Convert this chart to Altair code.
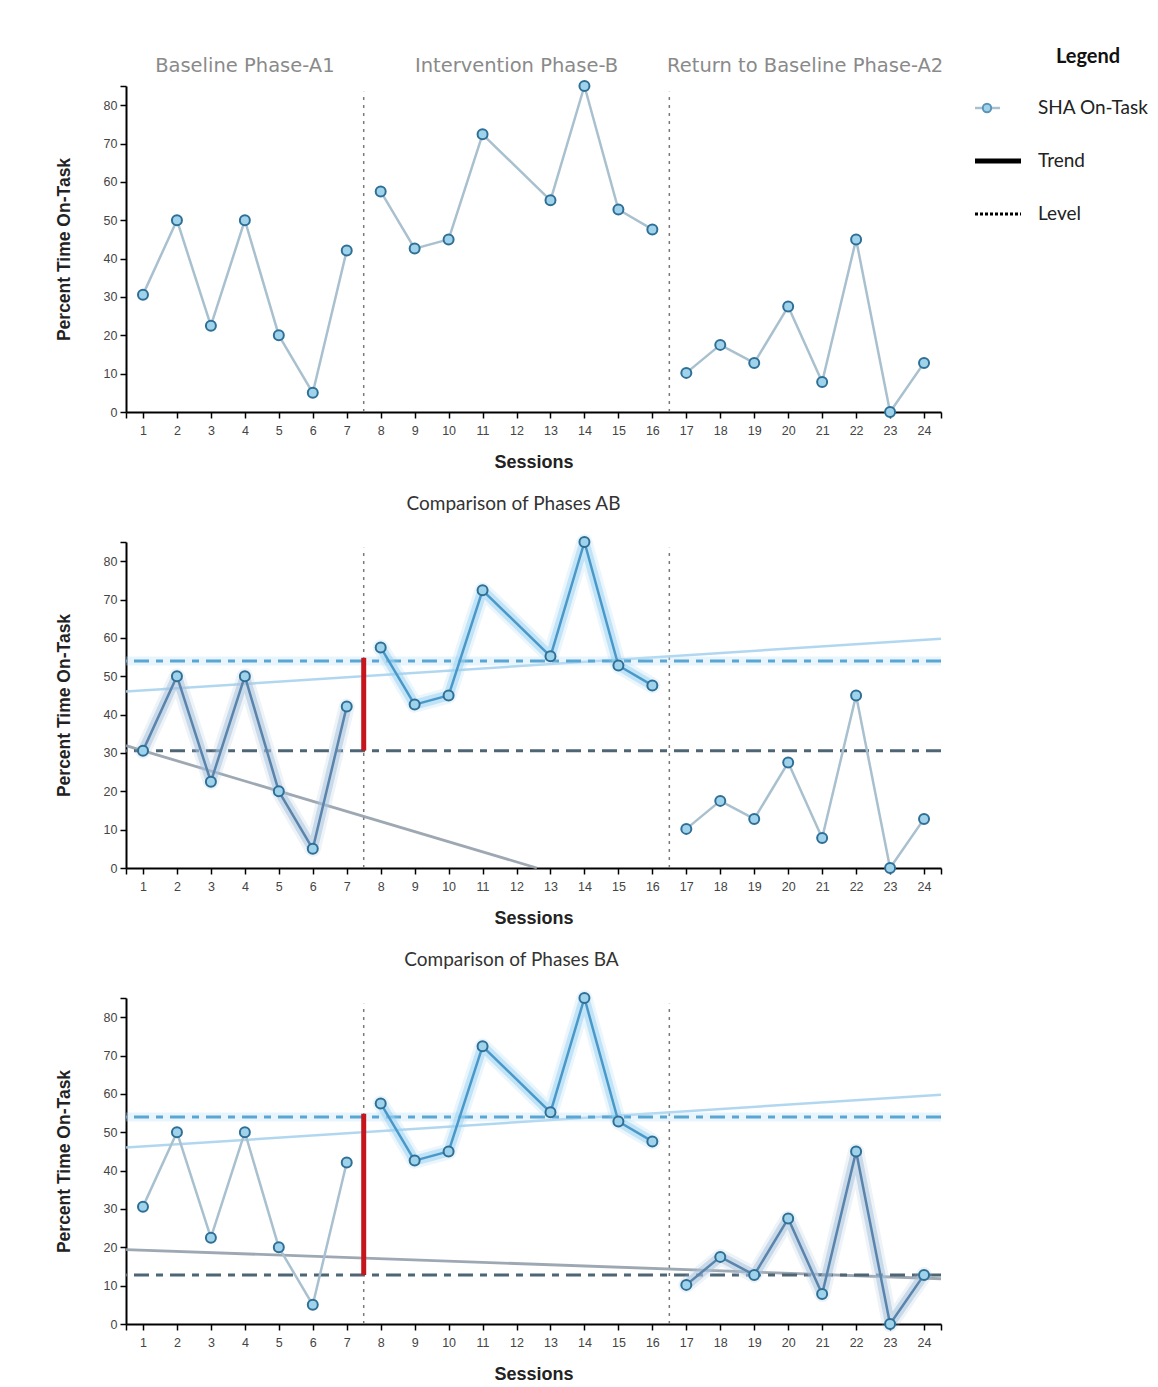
import altair as alt
import pandas as pd

# ---------------- data ----------------
sessions = [1, 2, 3, 4, 5, 6, 7, 8, 9, 10, 11, 13, 14, 15, 16, 17, 18, 19, 20, 21, 22, 23, 24]
on_task = [30.6, 50.0, 22.5, 50.0, 20.0, 5.0, 42.1,
           57.5, 42.6, 45.0, 72.4, 55.2, 85.0, 52.8, 47.6,
           10.2, 17.5, 12.8, 27.5, 7.8, 45.0, 0.0, 12.8]
phase = ["A1"] * 7 + ["B"] * 8 + ["A2"] * 8

phase_names = ["Baseline Phase-A1", "Intervention Phase-B", "Return to Baseline Phase-A2"]
phase_name_x = [4, 12, 20.5]
phase_change = [7.5, 16.5]

level_a1 = 30.6
level_b = 54.0
level_a2 = 12.8
red_bar_top = 54.8

# trend lines (start / end points)
trend_ab_a1_x = [0.5, 12.6]
trend_ab_a1_y = [31.9, 0.0]
trend_b_x = [0.5, 24.5]
trend_b_y = [46.0, 59.8]
trend_ba_a2_x = [0.5, 24.5]
trend_ba_a2_y = [19.4, 11.8]

legend_title = "Legend"
legend_items = ["SHA On-Task", "Trend", "Level"]

x_ticks = [0.5] + list(range(1, 25)) + [24.5]
y_ticks = list(range(0, 81, 10)) + [85]

# ---------------- helpers ----------------
XS = alt.Scale(domain=[0.5, 24.5], nice=False, zero=False)
YS = alt.Scale(domain=[0, 85], nice=False, zero=True)
X_AXIS = alt.Axis(values=x_ticks,
                  labelExpr="datum.value == floor(datum.value) ? datum.label : ''",
                  labelOverlap=False, titleFontSize=18, titlePadding=17, labelPadding=6)
Y_AXIS = alt.Axis(values=y_ticks,
                  labelExpr="datum.value <= 80 ? datum.label : ''",
                  labelOverlap=False, titleFontSize=17.5, titlePadding=30, labelPadding=3)
X_TITLE = "Sessions"
Y_TITLE = "Percent Time On-Task"


def X(field="session"):
    return alt.X(f"{field}:Q", scale=XS, axis=X_AXIS, title=X_TITLE)


def Y(field="pct"):
    return alt.Y(f"{field}:Q", scale=YS, axis=Y_AXIS, title=Y_TITLE)


df = pd.DataFrame({"session": sessions, "pct": on_task, "phase": phase})

LINE_GRAY = "#a9c0cf"
POINT_FILL = "#9fd3ec"
POINT_STROKE = "#2f6f96"


def data_line(sub=None, color=LINE_GRAY, width=2.5, opacity=1.0):
    d = df if sub is None else df[df.phase == sub]
    return alt.Chart(d).mark_line(color=color, strokeWidth=width, opacity=opacity,
                                  strokeJoin="round", strokeCap="round").encode(
        x=X(), y=Y(), detail="phase:N")


def points():
    return alt.Chart(df).mark_point(shape="circle", filled=True, fill=POINT_FILL,
                                    stroke=POINT_STROKE, strokeWidth=2, size=100,
                                    opacity=1).encode(x=X(), y=Y())


def phase_rules():
    return alt.Chart(pd.DataFrame({"session": phase_change})).mark_rule(
        color="#7a7a7a", strokeWidth=1.5, strokeDash=[3, 5]).encode(
        x=X(),
        y=alt.Y(datum=0, scale=YS, axis=Y_AXIS, title=Y_TITLE),
        y2=alt.Y2(datum=83.5))


def level_rule(value, color, glow=None):
    d = pd.DataFrame({"pct": [value]})
    layers = []
    if glow:
        layers.append(alt.Chart(d).mark_rule(color=glow, strokeWidth=9, opacity=0.35).encode(y=Y()))
    layers.append(alt.Chart(d).mark_rule(color=color, strokeWidth=3,
                                         strokeDash=[15, 7, 7, 7]).encode(y=Y()))
    return layers


def trend(xs, ys, color, width=2.5, opacity=0.9):
    d = pd.DataFrame({"session": xs, "pct": ys})
    return alt.Chart(d).mark_line(color=color, strokeWidth=width, opacity=opacity).encode(x=X(), y=Y())


def red_bar(low, high):
    d = pd.DataFrame({"session": [7.5], "pct": [low], "pct2": [high]})
    return alt.Chart(d).mark_rule(color="#c4161c", strokeWidth=5).encode(
        x=X(), y=Y(), y2=alt.Y2("pct2:Q"))


def band(sub, band_color, line_color):
    return [data_line(sub, band_color, 16, 0.2),
            data_line(sub, band_color, 10, 0.55),
            data_line(sub, line_color, 2.5, 1.0)]


W, H = 815, 326

# ---------------- top panel ----------------
phase_text = alt.Chart(pd.DataFrame({"session": phase_name_x, "name": phase_names})).mark_text(
    font="DejaVu Sans", fontSize=19.5, color="#8a8a8a", baseline="middle").encode(
    x=X(), y=alt.value(-20), text="name:N")

top_data = alt.layer(phase_rules(), data_line(), points(), phase_text)

# legend drawn at the right of the top panel with its own point scale
LX = W + 34  # left edge of legend symbols
leg_df = pd.DataFrame({"item": legend_items})
ly = alt.Y("item:N", sort=legend_items, axis=None,
           scale=alt.Scale(type="point", range=[22, 128], padding=0))
lbase = alt.Chart(leg_df).encode(y=ly)
sha = lbase.transform_filter(alt.datum.item == "SHA On-Task")
legend = alt.layer(
    sha.mark_rule(color=LINE_GRAY, strokeWidth=2.5).encode(x=alt.value(LX), x2=alt.value(LX + 25)),
    sha.mark_point(shape="circle", filled=True, fill=POINT_FILL, stroke="#5a93b8",
                   strokeWidth=2, size=70, opacity=1).encode(x=alt.value(LX + 12)),
    lbase.transform_filter(alt.datum.item == "Trend").mark_rule(
        color="black", strokeWidth=5).encode(x=alt.value(LX), x2=alt.value(LX + 46)),
    lbase.transform_filter(alt.datum.item == "Level").mark_rule(
        color="black", strokeWidth=3, strokeDash=[3, 2]).encode(x=alt.value(LX), x2=alt.value(LX + 46)),
    lbase.mark_text(align="left", baseline="middle", font="Lato", fontSize=19,
                    color="#222").encode(x=alt.value(LX + 63), text="item:N"),
    alt.Chart(pd.DataFrame({"t": [legend_title]})).mark_text(
        align="center", baseline="middle", font="Lato", fontSize=20, fontWeight="bold",
        color="#111").encode(x=alt.value(LX + 113), y=alt.value(-29), text="t:N"),
)

top = alt.layer(top_data, legend).resolve_scale(y="independent").properties(width=W, height=H)

# ---------------- middle panel (AB) ----------------
BLUE_BAND, BLUE_LINE = "#9dd4f2", "#4a98c8"
SLATE_BAND, SLATE_LINE = "#a9c3dc", "#5a84ab"

mid_layers = [phase_rules(),
              trend(trend_ab_a1_x, trend_ab_a1_y, "#939eab", width=2.8),
              trend(trend_b_x, trend_b_y, "#a8d3ee")]
mid_layers += level_rule(level_b, "#5aa6d3", glow="#bfe2f6")
mid_layers += level_rule(level_a1, "#4d6575")
mid_layers += band("A1", SLATE_BAND, SLATE_LINE)
mid_layers += band("B", BLUE_BAND, BLUE_LINE)
mid_layers += [data_line("A2"), red_bar(level_a1, red_bar_top), points()]

mid = alt.layer(*mid_layers).properties(
    width=W, height=H,
    title=alt.TitleParams("Comparison of Phases AB", font="Lato", fontSize=19,
                          fontWeight="normal", color="#333", anchor="middle",
                          dx=-20, offset=19))

# ---------------- bottom panel (BA) ----------------
bot_layers = [phase_rules(),
              trend(trend_ba_a2_x, trend_ba_a2_y, "#939eab", width=2.8),
              trend(trend_b_x, trend_b_y, "#a8d3ee")]
bot_layers += level_rule(level_b, "#5aa6d3", glow="#bfe2f6")
bot_layers += level_rule(level_a2, "#4d6575")
bot_layers += [data_line("A1")]
bot_layers += band("B", BLUE_BAND, BLUE_LINE)
bot_layers += band("A2", SLATE_BAND, SLATE_LINE)
bot_layers += [red_bar(level_a2, red_bar_top), points()]

bot = alt.layer(*bot_layers).properties(
    width=W, height=H,
    title=alt.TitleParams("Comparison of Phases BA", font="Lato", fontSize=19,
                          fontWeight="normal", color="#333", anchor="middle",
                          dx=-22, offset=19))

chart = alt.vconcat(top, mid, bot, spacing=130, bounds="flush").properties(
    padding={"left": 47, "top": 39, "right": 0, "bottom": 5}
).configure_axis(
    domainColor="black", domainWidth=2, tickColor="black", tickWidth=1.5, tickSize=6,
    labelColor="#444", labelFont="Liberation Sans", labelFontSize=12.5,
    titleFont="Liberation Sans", titleFontWeight="bold", titleColor="#222", grid=False
).configure_view(stroke=None)

chart.save("out.html", embed_options={"renderer": "svg", "actions": False})
